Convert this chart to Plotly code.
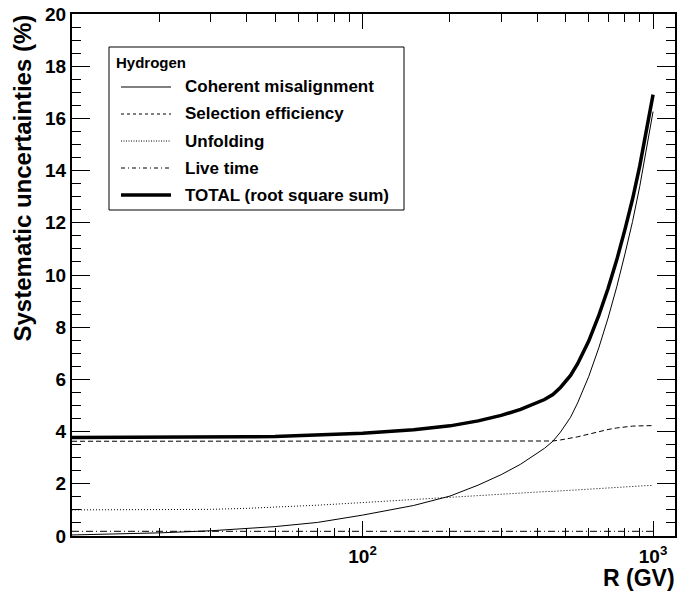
import plotly.graph_objects as go

# ---------------- data ----------------
rigidity = [10, 15, 20, 30, 40, 50, 70, 100, 150, 200, 250, 300, 350, 423,
            452, 480, 520, 550, 600, 650, 700, 750, 800, 850, 900, 950, 1000]
coherent = [0.04, 0.08, 0.12, 0.20, 0.28, 0.36, 0.52, 0.80, 1.17, 1.53, 1.95, 2.35, 2.75, 3.36,
            3.63, 3.98, 4.55, 5.10, 6.10, 7.20, 8.35, 9.55, 10.80, 12.05, 13.40, 14.80, 16.26]
selection = [3.63, 3.63, 3.63, 3.63, 3.63, 3.63, 3.63, 3.63, 3.63, 3.63, 3.63, 3.63, 3.63, 3.63,
             3.64, 3.68, 3.74, 3.80, 3.90, 4.00, 4.08, 4.14, 4.19, 4.21, 4.22, 4.23, 4.23]
unfolding = [1.00, 1.00, 1.00, 1.02, 1.06, 1.10, 1.18, 1.28, 1.40, 1.50, 1.56, 1.61, 1.65, 1.70,
             1.71, 1.73, 1.75, 1.77, 1.80, 1.82, 1.84, 1.86, 1.88, 1.90, 1.91, 1.93, 1.94]
live_time = [0.18] * len(rigidity)
total = [3.77, 3.77, 3.77, 3.78, 3.80, 3.81, 3.86, 3.94, 4.07, 4.22, 4.41, 4.62, 4.85, 5.23,
         5.42, 5.69, 6.15, 6.60, 7.46, 8.44, 9.48, 10.58, 11.74, 12.91, 14.18, 15.51, 16.91]

x_tickvals = [10, 100, 1000]
x_ticktext = ["", "10<sup>2</sup>", "10<sup>3</sup>"]
x_minor = [20, 30, 40, 50, 60, 70, 80, 90, 200, 300, 400, 500, 600, 700, 800, 900]

legend_header = "Hydrogen"
legend_names = ["Coherent misalignment", "Selection efficiency", "Unfolding",
                "Live time", "TOTAL (root square sum)"]
styles = [dict(width=1, dash="solid"), dict(width=1, dash="5px,3px"),
          dict(width=1, dash="1px,2px"), dict(width=1, dash="7px,3px,1px,3px"),
          dict(width=3.5, dash="solid")]
legend_dash = ["solid", "3px,3px", "1px,1.5px", "4px,3px,1px,3px", "solid"]
series = [coherent, selection, unfolding, live_time, total]

# ---------------- figure ----------------
W, H = 680, 598
ML, MR, MT, MB = 72, 5, 14, 62
PW, PH = W - ML - MR, H - MT - MB


def px(xp):
    return (xp - ML) / PW


def py(yp):
    return (H - MB - yp) / PH


fig = go.Figure()
for name, ys, st in zip(legend_names, series, styles):
    fig.add_trace(go.Scatter(x=rigidity, y=ys, mode="lines", name=name,
                             line=dict(color="black", **st), showlegend=False))

FONT = "Liberation Sans, Arial, sans-serif"

fig.update_layout(
    width=W, height=H,
    margin=dict(l=ML, r=MR, t=MT, b=MB, autoexpand=False),
    paper_bgcolor="white", plot_bgcolor="white",
    font=dict(family=FONT, color="black"),
    xaxis=dict(type="log", range=[1, 3.0755], showgrid=False, zeroline=False,
               automargin=False,
               showline=True, linewidth=2, linecolor="black", mirror="ticks",
               ticks="inside", ticklen=15, tickwidth=1, tickcolor="black",
               tickvals=x_tickvals, ticktext=x_ticktext, ticklabelstandoff=2,
               tickfont=dict(size=19, family=FONT, weight="bold"),
               minor=dict(tickvals=x_minor, ticks="inside", ticklen=8,
                          tickwidth=1, tickcolor="black")),
    yaxis=dict(range=[0, 20], showgrid=False, zeroline=False,
               automargin=False,
               showline=True, linewidth=2, linecolor="black", mirror="ticks",
               ticks="inside", ticklen=18, tickwidth=1, tickcolor="black",
               dtick=2, tick0=0,
               tickfont=dict(size=19, family=FONT, weight="bold"),
               minor=dict(dtick=0.5, ticks="inside", ticklen=9,
                          tickwidth=1, tickcolor="black")),
)

annotations = [
    dict(text="<b>R (GV)</b>", xref="paper", yref="paper", x=px(677), y=py(578),
         xanchor="right", yanchor="middle", showarrow=False,
         font=dict(size=23, family=FONT)),
    dict(text="<b>Systematic uncertainties (%)</b>", xref="paper", yref="paper",
         x=px(22), y=py(13), xanchor="center", yanchor="top", textangle=-90,
         showarrow=False, font=dict(size=24, family=FONT)),
    dict(text="<b>" + legend_header + "</b>", xref="paper", yref="paper",
         x=px(114), y=py(62), xanchor="left", yanchor="middle", showarrow=False,
         font=dict(size=15, family=FONT)),
]

shapes = [dict(type="rect", xref="paper", yref="paper", x0=px(109), x1=px(404),
               y0=py(210), y1=py(47), line=dict(color="black", width=1),
               fillcolor="white", layer="above")]

rows = [87, 114, 141, 168, 195]
for name, st, dsh, ry in zip(legend_names, styles, legend_dash, rows):
    shapes.append(dict(type="line", xref="paper", yref="paper", x0=px(121), x1=px(171),
                       y0=py(ry), y1=py(ry), layer="above",
                       line=dict(color="black", width=st["width"], dash=dsh)))
    annotations.append(dict(text="<b>" + name + "</b>", xref="paper", yref="paper",
                            x=px(183), y=py(ry), xanchor="left", yanchor="middle",
                            showarrow=False, font=dict(size=17, family=FONT)))

fig.update_layout(annotations=annotations, shapes=shapes)
fig.write_html("out.html", config={"displayModeBar": False},
               post_script="document.body.style.margin='0';document.body.style.padding='0';")
